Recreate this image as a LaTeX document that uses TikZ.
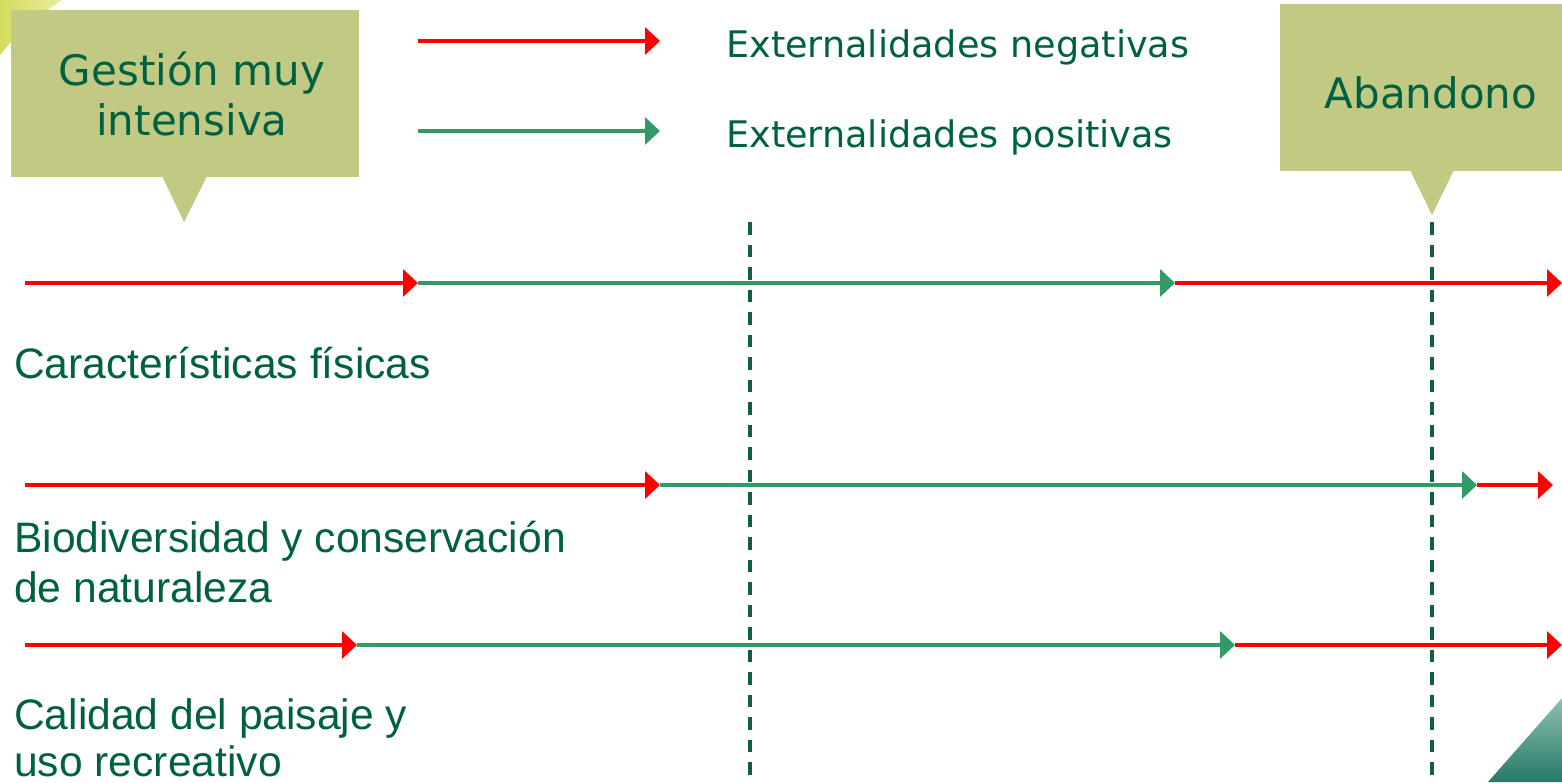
\documentclass[tikz,border=0pt]{standalone}
\usepackage{fontspec}
\setmainfont{Liberation Sans}
\newfontfamily\verd{DejaVu Sans}
\usetikzlibrary{arrows.meta}
\definecolor{txtgreen}{RGB}{0,96,66}
\definecolor{arrgreen}{RGB}{51,153,102}
\definecolor{arrred}{RGB}{255,0,0}
\definecolor{callfill}{RGB}{194,201,131}
\definecolor{dashgreen}{RGB}{14,94,72}
\begin{document}
\begin{tikzpicture}[x=1pt,y=-1pt,
  negarr/.style={draw=arrred,line width=3.5pt,-{Triangle[length=15pt,width=27pt]}},
  posarr/.style={draw=arrgreen,line width=3.5pt,-{Triangle[length=15pt,width=27pt]}},
  divider/.style={draw=dashgreen,line width=3.5pt,dash pattern=on 12.5pt off 10pt},
  calltxt/.style={inner sep=0pt,anchor=base,text=txtgreen,font=\verd\fontsize{42}{50}\selectfont},
  legtxt/.style={inner sep=0pt,anchor=base west,text=txtgreen,font=\verd\fontsize{36.6}{44}\selectfont},
  rowtxt/.style={inner sep=0pt,anchor=base west,text=txtgreen,font=\fontsize{42.6}{50}\selectfont},
  callbox/.style={fill=callfill,draw=none}]
\useasboundingbox (0,0) rectangle (1562,782);
% corner decorations
\shade[left color={rgb,255:red,212;green,220;blue,92},right color={rgb,255:red,232;green,236;blue,160}]
  (0,0) -- (62,0) .. controls (40,15) and (20,30) .. (0,55) -- cycle;
\shade[top color={rgb,255:red,140;green,192;blue,176},bottom color={rgb,255:red,40;green,120;blue,104}]
  (1562,698) -- (1562,782) -- (1488,782) -- cycle;
% callouts
\path[callbox] (11,10) rectangle (359,177);
\path[callbox] (162,176) -- (207,176) -- (184,222) -- cycle;
\path[callbox] (1280,4) rectangle (1562,171);
\path[callbox] (1410,170) -- (1454,170) -- (1432,215) -- cycle;
\node[calltxt] (g1) at (192,85) {Gestión muy};
\node[calltxt] (g2) at (192,135) {intensiva};
\node[calltxt] (ab) at (1431,108) {Abandono};
% legend
\coordinate (ln0) at (418,41);
\coordinate (ln1) at (660,41);
\coordinate (lp0) at (418,131);
\coordinate (lp1) at (660,131);
\draw[negarr] (ln0) -- (ln1);
\draw[posarr] (lp0) -- (lp1);
\node[legtxt] (tneg) at (726,57) {Externalidades negativas};
\node[legtxt] (tpos) at (726,147) {Externalidades positivas};
% dividers
\coordinate (d1a) at (750,222);
\coordinate (d1b) at (750,782);
\coordinate (d2a) at (1432,222);
\coordinate (d2b) at (1432,782);
\draw[divider] (d1a) -- (d1b);
\draw[divider] (d2a) -- (d2b);
% row 1
\coordinate (r1a) at (25,283);
\coordinate (r1b) at (418,283);
\coordinate (r1c) at (1175,283);
\coordinate (r1d) at (1562,283);
\draw[negarr] (r1a) -- (r1b);
\draw[posarr] (r1b) -- (r1c);
\draw[negarr] (r1c) -- (r1d);
\node[rowtxt] (t1) at (14,378) {Características físicas};
% row 2
\coordinate (r2a) at (25,485);
\coordinate (r2b) at (660,485);
\coordinate (r2c) at (1477,485);
\coordinate (r2d) at (1553,485);
\draw[negarr] (r2a) -- (r2b);
\draw[posarr] (r2b) -- (r2c);
\draw[negarr] (r2c) -- (r2d);
\node[rowtxt] (t2a) at (14,552) {Biodiversidad y conservación};
\node[rowtxt] (t2b) at (14,602) {de naturaleza};
% row 3
\coordinate (r3a) at (25,645);
\coordinate (r3b) at (357,645);
\coordinate (r3c) at (1235,645);
\coordinate (r3d) at (1562,645);
\draw[negarr] (r3a) -- (r3b);
\draw[posarr] (r3b) -- (r3c);
\draw[negarr] (r3c) -- (r3d);
\node[rowtxt] (t3a) at (14,729) {Calidad del paisaje y};
\node[rowtxt] (t3b) at (14,776) {uso recreativo};
\end{tikzpicture}
\end{document}
